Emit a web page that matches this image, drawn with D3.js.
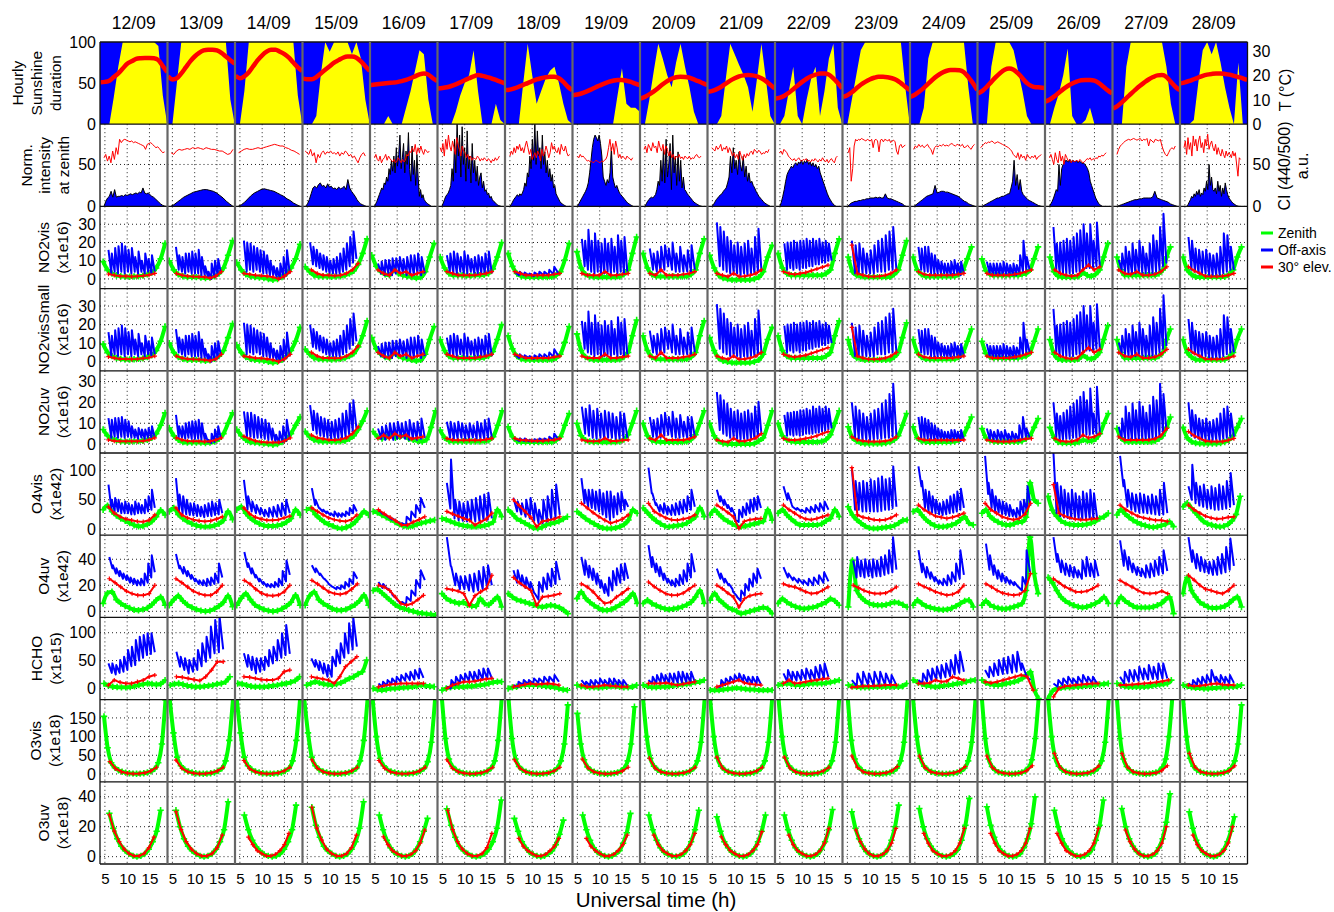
<!DOCTYPE html>
<html><head><meta charset="utf-8">
<script src="https://cdn.jsdelivr.net/npm/d3@7"></script>
<style>body{margin:0;background:#fff}svg text{font-family:"Liberation Sans",Arial,sans-serif;fill:#000}</style>
</head><body><svg id="c" width="1334" height="912"></svg>
<script>
const DAYS=["12/09","13/09","14/09","15/09","16/09","17/09","18/09","19/09","20/09","21/09","22/09","23/09","24/09","25/09","26/09","27/09","28/09"];
const HOURS=[4,5,6,7,8,9,10,11,12,13,14,15,16,17,18,19];
const X_TICKS=[5,10,15];
const SUN=[
[0,0,0,33,70,100,100,100,100,100,100,100,100,95,35,0],
[0,0,50,100,100,100,100,100,100,100,100,100,100,100,30,0],
[0,0,40,100,100,100,100,100,100,100,100,100,100,100,35,0],
[0,0,0,10,60,100,88,100,100,100,100,85,100,80,30,0],
[0,0,0,0,10,0,0,0,20,40,65,90,85,30,0,0],
[0,0,0,0,15,35,50,60,90,40,0,0,0,25,5,0],
[0,0,0,0,50,98,60,25,40,55,65,70,50,25,5,0],
[0,0,0,0,0,0,0,0,0,0,35,68,25,20,20,15],
[0,0,30,65,98,80,60,45,75,98,70,45,15,0,0,0],
[0,0,0,10,55,98,85,72,60,45,15,55,98,55,10,0],
[0,0,10,40,70,10,0,30,55,70,10,40,80,98,20,0],
[0,0,30,60,90,100,100,100,100,100,100,100,100,100,45,0],
[0,0,0,20,80,100,100,100,100,100,100,100,100,45,0,0],
[0,0,0,70,100,100,100,100,90,65,40,10,0,0,0,0],
[0,0,20,37,60,92,10,0,0,5,20,0,0,0,0,0],
[0,0,0,70,100,100,100,100,100,100,100,100,70,25,0,0],
[0,0,0,5,50,90,100,85,100,75,45,20,0,75,0,0]];
const TEMP=[
[17.3,17.5,18,19.5,21,23,25,26,27,27.3,27.4,27.4,27.3,26.5,24,21.5],
[19.8,18.5,19,21,23.5,26,28,29.5,30.5,30.8,30.8,30.5,29.5,28,26.5,25],
[20,19,19.8,21.5,24,26.5,28.5,30,30.8,30.8,30,29,27.5,25.5,23.5,22],
[19,18.6,18.6,19.5,21,22.5,24,25.5,26.5,27.5,28,28,27.5,26,24,22],
[16.2,16.4,16.6,16.8,17,17.2,17.4,17.8,18.3,19,19.8,20.6,21,20.5,19,17.8],
[14.8,15,15.3,15.8,16.5,17.3,18.2,19,19.8,20.3,20,19.5,19,18.3,17.6,16.9],
[14.1,14.3,14.8,15.5,16.3,17,17.8,18.5,19,19.4,19.6,19.6,19,17.5,15.5,14.1],
[12,12.3,12.8,13.5,14.3,15.2,16,16.8,17.5,18,18.3,18.3,18,17.5,16.8,16.2],
[10.6,11.3,12.3,13.6,15,16.5,17.8,18.8,19.4,19.6,19.5,19.2,18.5,17.8,17,16.2],
[13.4,13.8,14.5,15.5,16.8,18,19,19.8,20.2,20.3,20.2,19.8,19,17.8,16.3,14.8],
[10.6,11,11.8,13,14.5,16,17.5,18.8,19.8,20.5,21,21,20.5,19,17,14.8],
[11.3,12,13.2,14.8,16.3,17.5,18.5,19.2,19.6,19.6,19.4,19,18.3,17,15.5,14.1],
[11.3,12.2,13.5,15,16.8,18.5,20,21.2,22,22.4,22.4,22.3,21.5,19.5,17,14.1],
[12.7,13.8,15.5,17.5,19.5,21.2,22.5,23,22.5,21,19,17,15.8,15.3,15.2,15],
[9.3,10.2,11.5,13,14.5,15.8,16.8,17.6,18.2,18.3,18.3,18,17,15.5,14,12.7],
[6.5,7.5,9,10.8,12.5,14.2,15.8,17.2,18.5,19.5,20.2,20.3,19.5,17.5,15.5,14.1],
[16.9,17.3,17.9,18.6,19.3,20,20.5,20.8,21,21,20.8,20.5,20,19.5,19,18.3]];
const INTENS=[
[4.8,18.7,[0,6,10,12,18,11,20,11,12,12,13,12,14,13,14,15,14,15,16,15,17,16,22,16,15,16,14,12,11,9,7,5,3,1.5,0.5,0]],
[4.6,18.6,[0,2,5,8,11,13,15,17,18,19,20,20,19,18,16,13,10,6,3,0]],
[4.6,18.5,[0,2,5,9,13,16,18,20,21,20,19,18,16,14,12,9,7,4,2,0]],
[4.6,18.2,[0,3,8,15,22,24,22,26,28,24,25,22,27,23,24,21,22,20,23,21,22,24,20,32,22,18,15,12,8,5,3,2,1,0]],
[4.9,17.7,[0,3,6,10,14,18,22,20,28,26,35,30,45,38,55,42,60,40,70,48,62,85,45,58,75,40,66,50,88,44,30,72,38,55,25,62,35,12,20,10,14,8,6,4,3,2,1,0]],
[4.9,18.2,[0,4,8,12,14,16,20,25,45,30,80,40,99,60,85,35,95,50,70,30,90,45,60,28,75,40,55,30,48,25,35,40,22,30,18,20,14,16,10,12,8,6,5,3,2,1,0.5,0]],
[5.0,17.6,[0,2,5,8,10,12,14,12,15,13,16,20,28,24,40,35,60,45,80,55,99,50,90,60,70,45,85,50,65,40,55,35,45,30,38,22,25,15,12,9,6,4,3,2,1,0]],
[5.0,17.5,[0,3,6,9,12,15,18,22,28,40,55,70,80,85,82,78,85,75,60,35,30,25,32,28,40,70,35,28,22,25,20,16,14,12,10,8,6,4,3,2,1,0]],
[5.0,17.8,[0,3,6,8,10,11,10,12,14,20,30,25,55,30,70,28,80,35,50,75,20,85,40,60,25,65,30,55,22,35,20,18,15,13,11,9,7,5,4,3,2,1,0.5,0]],
[4.9,18.0,[0,2,5,8,10,12,14,15,18,20,22,28,35,60,40,70,45,55,38,65,50,42,60,35,48,30,40,28,30,25,22,18,15,12,10,8,6,4,3,2,1,0]],
[5.0,17.6,[0,5,12,20,30,38,42,45,48,46,50,52,49,53,51,55,50,54,52,56,50,53,48,52,47,50,45,48,40,35,30,25,20,15,11,8,5,3,1,0]],
[5.0,18.2,[0,2,4,5,6,6,7,7,8,8,9,9,10,10,10,11,10,11,10,10,15,10,9,9,8,7,6,5,4,3,1,0]],
[4.8,18.5,[0,2,4,6,8,10,12,13,14,15,25,16,17,18,18,17,17,16,15,14,13,12,10,8,6,5,3,2,1,0]],
[4.9,18.3,[0,1,2,3,4,5,6,7,8,9,10,10,11,12,12,13,14,15,15,22,30,55,25,38,20,32,18,14,12,10,8,7,6,5,4,3,2,1,0.5,0]],
[4.9,16.8,[0,3,6,10,15,20,18,50,25,45,50,52,55,54,53,56,52,55,54,53,55,52,54,53,51,52,50,48,45,40,30,25,20,15,10,7,4,2,1,0]],
[4.9,18.4,[0,1,2,3,4,5,6,7,8,8,9,9,10,10,10,10,11,18,10,9,8,7,6,5,3,2,1,0]],
[5.4,17.4,[0,2,5,8,12,10,15,12,18,14,20,12,16,14,22,18,30,20,50,25,35,20,18,22,15,30,18,25,12,22,15,28,20,14,10,8,6,4,3,2,1,0.5,0,0]]];
const CI=[
[4.8,18.4,[58,62,54,60,52,66,56,70,62,80,76,79,80,79,78,77,78,76,77,76,75,74,73,72,68,74,75,76,74,72,70,71,69,66,64,65]],
[4.7,18.6,[64,62,66,68,67,68,69,68,70,69,70,69,68,70,69,68,68,67,66,66,64,62,63,68]],
[4.7,18.4,[64,66,68,69,68,68,69,70,69,70,71,72,73,74,73,72,72,70,69,67,66,64,62]],
[4.5,18.0,[66,64,62,68,60,64,52,62,58,64,66,62,65,64,66,63,64,62,65,60,64,62,66,64,60,62,58,60,56,52,58,62,64,60]],
[4.9,17.2,[58,62,56,54,60,52,56,58,62,55,60,57,55,53,56,52,54,58,55,52,56,53,55,62,60,66,64,70,65,74,62,70,64,72,66,62,68,66,64,66]],
[4.5,17.8,[70,65,75,60,80,68,85,72,66,78,70,62,82,74,68,60,72,66,64,58,62,56,60,55,58,57,56,60,58,54,57,55,58,56,54,57,55,52,56,54,58,55,57,60]],
[5.0,18.4,[60,66,62,70,64,72,68,74,66,70,64,72,78,70,62,68,56,60,64,58,66,62,54,68,60,64,72,66,58,64,76,68,72,66,64,70,62,74,68,66,72,64,60,62]],
[5.0,17.4,[60,58,62,59,60,58,56,54,55,53,54,52,53,55,54,53,52,54,53,55,56,60,70,80,66,75,62,78,70,58,62,57,60,58,56,60,58,57,55,58]],
[4.8,17.6,[68,72,64,74,70,66,76,70,72,64,78,70,66,74,62,72,68,60,66,58,62,56,60,58,62,57,59,56,60,58,57,60,56,58,57,60,62,59,58,60]],
[4.9,17.7,[70,68,66,72,68,70,74,66,70,68,72,64,70,66,60,64,58,62,56,66,60,55,62,58,63,60,64,66,62,68,66,64,67,65,62,64,63,66,64,68]],
[4.9,17.9,[64,66,62,68,66,64,60,58,56,55,57,54,56,58,55,54,56,55,57,54,55,53,56,54,57,55,53,56,54,58,55,53,56,52,55,57,54,52,58,60]],
[5.2,18.0,[64,70,30,45,72,80,78,80,79,81,80,79,78,80,79,78,80,70,79,80,78,65,79,80,77,80,79,78,80,76,78,79,77,66,62,72,74,70,72,73]],
[4.7,18.4,[68,72,70,74,71,73,70,72,74,70,68,62,70,72,71,73,72,74,72,73,72,74,75,73,72,74,73,72,74,70,71,73,70,68,72,74]],
[4.6,18.2,[70,72,74,76,75,77,76,78,77,75,76,77,76,75,74,73,72,71,70,68,66,62,60,58,64,56,62,58,60,55,62,59,57,60,58,61,56,59,60,62]],
[4.9,17.6,[58,62,56,50,64,56,52,66,54,60,50,62,58,54,56,52,55,53,54,55,53,56,54,52,53,55,57,56,58,55,57,56,58,57,60,59,61,60,62,64]],
[4.9,18.0,[62,68,72,74,76,78,79,80,79,80,81,80,79,80,81,78,80,79,81,72,80,78,76,80,79,78,80,72,66,62,60,64,68,70,68,72]],
[4.8,17.5,[70,78,62,82,68,76,60,84,72,80,66,78,84,70,76,64,80,72,86,68,74,78,70,66,74,62,70,64,60,68,62,58,66,60,64,62,58,66,60,64,50,36,58,56]]];

const NO2VIS_Z=[
[4.6,18.5,[9.5,5,3,2,1.5,1.3,1.2,1.3,1.5,1.8,2.5,3.5,6,11,19.5]],
[4.3,18.5,[10,5,2.5,1.5,1,1,1,0.8,0.5,0.8,1.5,3,6,13,21]],
[4.3,18.5,[9,5,2.5,1.5,1,0.8,0.5,0,-0.5,0,1,3,6,11,19]],
[4.5,18.4,[6.7,4,2,1.5,1.3,1.3,1.2,1.3,1.5,2,3,4.5,8,14,22]],
[4.3,18.3,[13,7,4,2.5,2,5,3,2,1.5,1,0.5,1,4,12,19.5]],
[4.5,18.3,[12,6,3,2,2,2,1.8,1.8,2,2,2.3,3,5.5,12,20]],
[4.6,18.3,[14,7,3,1.5,1,1,1,1,1,1,1.2,2,4,10.4,19.5]],
[4.9,18.3,[15,6,2.5,1.5,1,1,1,1,1,1,1.3,2.5,5,14,23]],
[4.6,18.3,[14,6,2.5,1.5,1.3,1.3,1.3,1.3,1.3,1.3,1.5,2.5,5,14,22]],
[4.4,18.4,[13,6,2,0.5,0,-0.5,-0.5,-0.5,-0.5,-0.5,0,1,4,12,18.5]],
[4.6,18.3,[14,6,3,2,2,2,2,2,2,2,2,3,5,14,22]],
[5.2,18.3,[12,4,2,1.5,1,1,1,1,1,1,1.2,2.5,5,13,21]],
[4.6,17.7,[12,5,2.5,1.5,1.3,1.3,1.3,1.3,1.3,1.3,1.5,2.5,5,11,17.6]],
[4.9,17.5,[11,4.5,2.5,2,2,2,2,2,2,2,2.5,3,5,11,17.6]],
[5.0,18.0,[12,4,1.5,1,1,1,1,1.5,3.5,2,1.5,2.5,5,12,19.5]],
[4.9,16.9,[12,5,2,2,2,2,2,2,2,2,2,3,5,12,17.6]],
[4.6,17.7,[12,5,2.5,1.2,1,1,1,1,1,1,1.2,2.5,5,12,17.6]]];
const NO2VIS_E=[
[5.8,16.2,[2.7,2,1.5,1.5,1.3,1.5,1.8,2.2,3]],
[5.9,16.0,[3,2,1.5,1.3,1.2,1,0.5,1.5,4]],
[5.9,16.3,[3,2.5,2,1.8,1.5,1,0,1.5,4]],
[5.9,16.4,[5,3,2,2,1.8,2,3,5,8.5]],
[5.7,15.8,[5,3,2,5,3,4,2,3,4]],
[6.0,16.1,[4,3,2,2,2,2,2.5,3,4]],
[6.1,16.2,[4,3,2,2,2,2,2,2.5,3]],
[6.0,16.4,[3,2,2,2,4,2,2,2.5,3]],
[6.1,16.2,[3,2,5,2,2,2,2.5,3,4]],
[6.0,16.0,[3,2,1.3,3,1.3,1.5,2,3,5]],
[5.8,15.8,[4,3,2.5,3,3.5,4.5,5.5,6.5,7.6]],
[6.0,16.0,[18.5,3,2,1.3,1.3,1.5,2,3,5]],
[5.8,16.0,[4,2.5,2,2,2,2,2,2.5,3]],
[6.0,16.0,[3,2,2,2,2,2.5,3,4,5]],
[6.1,16.2,[5,3,2,1.5,2,5,7.6,5,6.7]],
[5.3,16.1,[5,3,2.5,4,2,2,2.5,4,6.7]],
[5.8,16.0,[6.7,4.5,3,1.5,1.3,1.3,1.5,2,3]]];
const NO2VIS_O=[
[5.8,16.2,[16,3,14,4,17,3,18,4,19.5,3,18,4,16,3,17,4,12,3,15,4,10,3,14,4,11,3,13,4]],
[5.8,15.9,[17.6,5,13,4,12,3,14,4,14,3,15,3,14,3,16,2,12,2,7,1,4,0,8.5,1,10,2,11,3]],
[5.9,16.2,[21,4,20,5,19.5,4,18,5,17,4,15.8,3,15,3,13,2,10,2,7,1,6,0,8.5,1,12,2,15.8,3]],
[5.6,16.0,[20,8,17.6,7,16,6,14,5,13,4,12,3,10,3,11,3,12,3,14,4,16.7,5,19.5,7,23,9,26,11]],
[5.7,16.2,[8.5,3,9.5,2,10.4,3,10.4,2,11.3,3,11.3,4,12,3,11,2,12,3,13,2,13,3,14,2,12,3]],
[6.0,16.1,[13,4,14,3,15,3,14,4,12,3,15,3,13,4,11,3,12,3,13,3,12,3,14,4,15,3]],
[6.1,15.9,[4,2,4,2,3.5,2,3,1.5,3.5,2,4,2,4,2,5,2.5,6.7,3]],
[6.0,16.2,[22,7,21,5,27,4,21,3,25,4,21,3,19.5,3,22,4,19.5,3,22,4,17.6,3,24,4,21,3,23,4]],
[6.1,16.2,[16.7,5,14,4,15,4,17.6,5,18.5,7,16.7,5,20,4,14,4,17.6,4,13,4,15.8,4,18.5,5]],
[6.0,16.0,[31,7,28.5,5,26,4,23,3,21,3,18.5,3,20,2,17.6,3,19.5,2,21,3,16.7,3,23,4,27.6,5]],
[6.0,16.6,[19.5,5,20,6,20,5,21,6,20,5,21,6,21,6,22,7,21,7,22,8,21,8,22,9,20,9,21,10,19.5,10]],
[6.0,16.0,[21,3,18.5,3,19.5,3,16.7,3,14,3,15.8,3,18.5,4,21,4,22,4,24,5,26,5,28.5,5]],
[5.8,16.0,[17.6,5,16.7,4,17.6,4,17.6,3,14,3,13,3,10.4,3,9.5,3,8.5,2,8.5,2,9.5,3,10.4,3,8.5,2,9.5,3]],
[6.0,15.6,[9.5,3,8.5,2,8.5,2,8.5,2,8.5,2,9.5,2,8.5,2,7.6,2,8.5,2,7.6,3,13,4,21,5,12,5]],
[5.8,16.2,[28.5,5,19.5,3,20,3,21,3,22,3,21,3,23,4,25,4,26.7,5,30,6,25,6,30,6,21,7,31,7]],
[5.3,16.0,[10.4,5,14,4,17.6,3,15,3,19.5,3,16,4,21,3,17.6,3,14,3,19.5,3,24,4,21,5,28.5,7,35.8,8.5]],
[5.8,16.0,[23,5,21,4,16.7,3,16,3,15,3,16,2,14,2,13,2,14,2,17.6,3,25,4,24,5,17.6,5]]];

const NO2VS_Z=[
[4.6,18.5,[9.5,5,3,2,1.5,1.3,1.2,1.3,1.5,1.8,2.5,3.5,6,11,19]],
[4.3,18.5,[10,5,2.5,1.5,1,1,1,0.8,0.5,0.8,1.5,3,6,13,20.5]],
[4.3,18.5,[9,5,2.5,1.5,1,0.8,0.5,0,-0.5,0,1,3,6,11,18.5]],
[4.5,18.4,[6.7,4,2,1.5,1.3,1.3,1.2,1.3,1.5,2,3,4.5,8,14,22]],
[4.3,18.3,[13,7,4,2.5,2,5,3,2,1.5,1,0.5,1,4,12,19]],
[4.5,18.3,[12,6,3,2,2,2,1.8,1.8,2,2,2.3,3,5.5,12,20]],
[4.6,18.3,[14,7,3,1.5,1,1,1,1,1,1,1.2,2,4,10.4,19]],
[4.9,18.3,[15,6,2.5,1.5,1,1,1,1,1,1,1.3,2.5,5,14,22.5]],
[4.6,18.3,[14,6,2.5,1.5,1.3,1.3,1.3,1.3,1.3,1.3,1.5,2.5,5,14,22]],
[4.4,18.4,[13,6,2,0.5,0,-0.5,-0.5,-0.5,-0.5,-0.5,0,1,4,12,18.5]],
[4.6,18.3,[14,6,3,2,2,2,2,2,2,2,2,3,5,14,22]],
[5.2,18.3,[12,4,2,1.5,1,1,1,1,1,1,1.2,2.5,5,13,21]],
[4.6,17.7,[12,5,2.5,1.5,1.3,1.3,1.3,1.3,1.3,1.3,1.5,2.5,5,11,17.6]],
[4.9,17.5,[11,4.5,2.5,2,2,2,2,2,2,2,2.5,3,5,11,17.6]],
[5.0,18.0,[12,4,1.5,1,1,1,1,1.5,3.5,2,1.5,2.5,5,12,19.5]],
[4.9,16.9,[12,5,2,2,2,2,2,2,2,2,2,3,5,12,17.6]],
[4.6,17.7,[12,5,2.5,1.2,1,1,1,1,1,1,1.2,2.5,5,12,17.6]]];
const NO2VS_E=[
[5.8,16.2,[2.7,2,1.5,1.5,1.3,1.5,1.8,2.2,3]],
[5.9,16.0,[3,2,1.5,1.3,1.2,1,0.5,1.5,4]],
[5.9,16.3,[3,2.5,2,1.8,1.5,1,0,1.5,4]],
[5.9,16.4,[5,3,2,2,1.8,2,3,5,8.5]],
[5.7,15.8,[5,3,2,5,3,4,2,3,4]],
[6.0,16.1,[4,3,2,2,2,2,2.5,3,4]],
[6.1,16.2,[4,3,2,2,2,2,2,2.5,3]],
[6.0,16.4,[3,2,2,2,4,2,2,2.5,3]],
[6.1,16.2,[3,2,5,2,2,2,2.5,3,4]],
[6.0,16.0,[3,2,1.3,3,1.3,1.5,2,3,5]],
[5.8,15.8,[4,3,2.5,3,3.5,4.5,5.5,6.5,7.6]],
[6.0,16.0,[18.5,3,2,1.3,1.3,1.5,2,3,5]],
[5.8,16.0,[4,2.5,2,2,2,2,2,2.5,3]],
[6.0,16.0,[3,2,2,2,2,2.5,3,4,5]],
[6.1,16.2,[5,3,2,1.5,2,5,7.6,5,6.7]],
[5.3,16.1,[5,3,2.5,4,2,2,2.5,4,6.7]],
[5.8,16.0,[6.7,4.5,3,1.5,1.3,1.3,1.5,2,3]]];
const NO2VS_O=[
[5.8,16.2,[16,3,14,4,17,3,18,4,19.5,3,18,4,16,3,17,4,12,3,15,4,10,3,14,4,11,3,13,4]],
[5.8,15.9,[17.6,5,13,4,12,3,14,4,14,3,15,3,14,3,16,2,12,2,7,1,4,0,8.5,1,10,2,11,3]],
[5.9,16.2,[21,4,20,5,19.5,4,18,5,17,4,15.8,3,15,3,13,2,10,2,7,1,6,0,8.5,1,12,2,15.8,3]],
[5.6,16.0,[20,8,17.6,7,16,6,14,5,13,4,12,3,10,3,11,3,12,3,14,4,16.7,5,19.5,7,23,9,26,11]],
[5.7,16.2,[8.5,3,9.5,2,10.4,3,10.4,2,11.3,3,11.3,4,12,3,11,2,12,3,13,2,13,3,14,2,12,3]],
[6.0,16.1,[13,4,14,3,15,3,14,4,12,3,15,3,13,4,11,3,12,3,13,3,12,3,14,4,15,3]],
[6.1,15.9,[4,2,4,2,3.5,2,3,1.5,3.5,2,4,2,4,2,5,2.5,6.7,3]],
[6.0,16.2,[22,7,21,5,27,4,21,3,25,4,21,3,19.5,3,22,4,19.5,3,22,4,17.6,3,24,4,21,3,23,4]],
[6.1,16.2,[16.7,5,14,4,15,4,17.6,5,18.5,7,16.7,5,20,4,14,4,17.6,4,13,4,15.8,4,18.5,5]],
[6.0,16.0,[31,7,28.5,5,26,4,23,3,21,3,18.5,3,20,2,17.6,3,19.5,2,21,3,16.7,3,23,4,27.6,5]],
[6.0,16.6,[19.5,5,20,6,20,5,21,6,20,5,21,6,21,6,22,7,21,7,22,8,21,8,22,9,20,9,21,10,19.5,10]],
[6.0,16.0,[21,3,18.5,3,19.5,3,16.7,3,14,3,15.8,3,18.5,4,21,4,22,4,24,5,26,5,28.5,5]],
[5.8,16.0,[17.6,5,16.7,4,17.6,4,17.6,3,14,3,13,3,10.4,3,9.5,3,8.5,2,8.5,2,9.5,3,10.4,3,8.5,2,9.5,3]],
[6.0,15.6,[9.5,3,8.5,2,8.5,2,8.5,2,8.5,2,9.5,2,8.5,2,7.6,2,8.5,2,7.6,3,13,4,21,5,12,5]],
[5.8,16.2,[28.5,5,19.5,3,20,3,21,3,22,3,21,3,23,4,25,4,26.7,5,30,6,25,6,30,6,21,7,31,7]],
[5.3,16.0,[10.4,5,14,4,17.6,3,15,3,19.5,3,16,4,21,3,17.6,3,14,3,19.5,3,24,4,21,5,28.5,7,35.8,8.5]],
[5.8,16.0,[23,5,21,4,16.7,3,16,3,15,3,16,2,14,2,13,2,14,2,17.6,3,25,4,24,5,17.6,5]]];

const NO2UV_Z=[
[4.6,18.5,[7,4,2.5,1.8,1.3,1.2,1.2,1.3,1.4,1.6,2,3,5,9,15]],
[4.3,18.5,[7.7,4,2,1,0.7,0.7,0.7,0.7,0.5,0.7,1.2,2.5,5,10,15]],
[4.3,18.5,[7,4,2,1,0.7,0.5,0.3,0,-0.3,0,1,2.5,5,9,13]],
[4.5,18.4,[6,3.5,2,1.5,1.2,1.2,1.2,1.2,1.3,1.6,2.5,4,7,11,16]],
[4.6,18.6,[6,3.5,2.7,3.5,4.3,3,3.5,4,2.5,2,1.5,1.2,2.2,8,16]],
[4.5,18.4,[6.7,3,1.5,1.2,1.2,1.2,1.2,1.2,1.2,1.2,1.3,1.8,3.5,9,16]],
[4.6,18.3,[8.3,3.5,1.5,1,1,1,1,1,1,1,1,1.8,3.5,9,14.7]],
[4.9,18.3,[10,4,1.8,1.2,1,1,1,1,1,1,1.2,2.2,4.5,10,16]],
[4.6,18.3,[10,4,1.8,1.2,1,1,1,1,1,1,1.2,2.2,4.5,10,16]],
[4.4,18.4,[10,4,1.5,0.3,0,0,0,0,0,0,0.2,1.5,3,9,16]],
[4.6,18.3,[10,4,2,1.3,1,1,1,1,1,1,1.2,2.2,4.5,10,16]],
[5.2,18.3,[8.3,3,1.5,0.6,0.3,0.3,0.3,0.3,0.3,0.5,1,2,4,9,14.7]],
[4.6,17.7,[8.3,3,1.5,1.1,1,1,1,1,1,1,1.2,2,4,8,13]],
[4.9,17.5,[7.5,3,1.8,1.2,1.1,1.1,1.1,1.1,1.1,1.1,1.5,2.5,4,8,12.3]],
[5.0,18.1,[8,3,1,0.5,0.5,0.5,0.5,1,2,1.5,1.5,2.5,5,10,14.7]],
[4.9,16.9,[7.5,3,1.5,1.1,1.1,1.1,1.1,1.1,1.1,1.1,1.5,2.5,4,8,13]],
[4.6,17.7,[8,3,1.2,0.5,0.3,0.3,0.3,0.3,0.3,0.5,1,2,4,8,12.3]]];
const NO2UV_E=[
[5.8,16.2,[2,1.5,1.3,1.3,1.3,1.3,1.5,2,3]],
[5.9,16.0,[3,2,1.5,1.3,1.3,1.2,1.3,2,3]],
[5.9,16.3,[3.7,2.5,1.5,1,0.8,0.8,0.8,1.5,3]],
[5.9,16.4,[4.3,3,2.5,2,2,2.2,3,5,8.3]],
[5.7,15.8,[2.7,4.3,2.7,5,3.5,4.3,2.5,3,3.5]],
[6.0,16.1,[2.7,2,1.8,1.8,1.8,1.8,1.8,2.2,2.7]],
[6.1,16.2,[2.7,2,1.8,1.6,1.6,1.6,1.8,2,2.7]],
[6.0,16.4,[2,1.5,1.3,1.5,2.7,1.5,1.5,1.8,2]],
[6.1,16.2,[2.7,2,4.3,2,2,2,2,2.5,3.5]],
[6.0,16.0,[2,1.3,1,2.7,1.3,1.5,2,3,5]],
[5.8,15.8,[2.7,2,2,2.2,2.7,3.2,4,5,6]],
[6.0,16.0,[3.5,2,1.5,1.2,1.2,1.2,1.5,2,3.5]],
[5.8,16.0,[2.7,2,1.8,1.8,1.8,1.8,1.8,2,2]],
[6.0,16.0,[2,1.5,1.2,1.2,1.2,1.5,2,2.5,2.7]],
[6.1,16.2,[2.7,1.5,1.2,1.2,2,4.3,3,3.5,5]],
[5.3,16.1,[3.5,2,2,2,2,2,2.5,4,7.5]],
[5.8,16.0,[6,4,2.7,1.5,1.2,1.2,1.2,1.8,2.7]]];
const NO2UV_O=[
[5.8,16.2,[12.5,3,11.7,3.5,12.5,3,12.5,3.5,13,3,11.7,3.5,11,3,8.5,3,7,2.5,7.7,3,7,2.5,7,3,7.7,3,8.5,3]],
[5.8,15.9,[14,3,8.5,3,8.5,2.5,10,3,10.5,2.5,11,2.5,11,2.5,11.7,2,10,2,5,1,2,0.5,5,1,7,2,8.5,2.5]],
[5.9,16.2,[15.7,3.5,15,3.5,15,3,14,3,13,3,12,2.5,11.7,2,10,2,7.5,1,4.5,0.5,6,1,8.5,1.5,11.7,2.5]],
[5.6,16.0,[18.7,6.7,16,5,14.7,4,13,3.5,12.3,3,11.5,2.5,10.7,2.5,11.5,2.5,12.3,3,14.7,3.5,16,4.5,19.5,6,21,7.5]],
[5.7,16.2,[7.5,2.5,8.3,2,9,2.5,10,2,10,2.5,10.7,3,10,2.5,10.7,2,11.5,2.5,10,2,10.7,2.5,12.3,3]],
[6.0,16.1,[10.7,3,10.7,2.5,10,2.5,10.7,3,10,2.5,9,2.5,10,3,9,2.5,10.7,2.5,10,2.5,11.5,3,12.3,3]],
[6.1,15.9,[2.7,1.5,2.7,1.5,2.7,1.3,2,1.2,2.3,1.3,2.7,1.5,2.7,1.5,3.5,1.8,5,2]],
[6.0,16.2,[18,5,17,4,18.7,3,16,2.5,17,3,14.7,2.5,16,3,15.3,3,14.7,2.5,13,2.5,15.3,3,14.7,3]],
[6.1,16.2,[13,3.5,11.5,3,12.3,3,14,4,15,4.5,13,3.5,15.5,3,12.3,3,14,3.5,10.7,3,13,3,13,3.5]],
[6.0,16.0,[25,6.7,23.5,5,21,4,19.5,3,17,3,15.5,2.5,16.3,2,14.7,2.5,15.5,2,16.3,2.5,14.7,2.5,18,3.5,20.3,5]],
[6.0,16.6,[14,4,15,4.5,15,4,15.5,4.5,15.5,4,16.3,4.5,16.3,5,17,5,16.3,5,18,5.5,17,5.5,18,6,17,6.5,18,7,17,7.5]],
[6.0,16.0,[20,3,18,2.5,16.3,2,14.7,2,13,2,14.7,2,16.3,2.5,17,2.5,19.5,3,21,3,24,3.5,29,4]],
[5.8,16.0,[13,3,13,2.5,12.3,2.5,11.5,2,10,2,9,2,7.5,2,6.7,1.8,5.9,1.8,5.9,1.5,6.7,1.8,6.7,1.8,5.9,1.5,6.7,1.8]],
[6.0,15.6,[7.5,2,6.7,1.8,5.9,1.8,6.7,1.8,5.9,1.5,6.7,1.8,5,1.5,5.9,1.5,5,1.5,9,2.5,13,3,7.5,3]],
[5.8,16.2,[20,3.5,14.7,2.5,13.5,2,15,2.5,16.3,2.5,18,3,19.5,3,21,3.5,22.7,4,25,4.5,21,4.5,26.7,5,14.7,5,27.5,5.5]],
[5.3,16.0,[8.3,3,12.3,2.5,18,2,15,2,19.5,2,16.3,2.5,20.3,2,18,2,15,2,18.7,2.5,22.7,3,21,3.5,29,5,24,6.7]],
[5.8,16.0,[20,4,16.3,3,14,2.5,12.3,2,11.5,2,12.3,2,10.7,2,11.5,2,12.3,2,14.7,2.5,17,3,18,3.5,14.7,3.5]]];

const O4VIS_Z=[
[4.6,18.5,[33,40,30,23,18,14,10,6.5,4.5,5,8,13,21,32,24]],
[4.3,18.5,[30,36,25,18,13,9,6,4.5,4,4.5,6,9,15,30,16]],
[4.3,18.5,[33,38,27,19,13,9,6,5,5,6,8,12,18,33,24]],
[4.8,18.7,[33,35,25,18,12,8,5,2,1,3,6,12,21,30,24]],
[4.6,18.4,[30,28,24,20,16,12,8,5,4,5,8,10,12,14,15.5]],
[4.9,18.3,[18,16,13,10,8,6,5,4,4,5,6,8,12,33,21]],
[4.6,17.9,[33,26,18,14,10,6,2,1,3,7,9,11,13,17,21]],
[4.9,18.4,[30,24,18,13,9,5,2,1,1,2,4,8,15.5,33,27]],
[4.6,18.3,[36,28,20,14,9,5,4,5,6,7,10,15,21,36,21]],
[4.5,18.4,[24,33,25,18,13,9,5,4,5,7,9,11,13,33,15]],
[4.6,18.3,[27,33,24,17,11,7,7,7,7,7,9,14,18,33,21]],
[5.2,18.4,[38,24,16,10,5,2,1,1,2,3,4,6,10,15,15.5]],
[4.6,18.1,[30,33,24,16,10,6,4,4,5,7,10,15.5,21,10,7]],
[4.9,17.5,[27,33,22,16,12,9,7,7,9,12,12,20,79,50,44]],
[4.6,18.1,[56,32,22,14,10,8,7,7,7,8,10,13,18,21,27]],
[4.9,17.6,[24,33,26,20,15,11,8,6,4,3,4,6,8,12.6,4]],
[4.6,17.4,[38,44,36,28,20,13,9,7,5,4,5,8,14,25,56]]];
const O4VIS_E=[
[5.8,16.2,[38,27,21,17,15,13,12.6,15,24]],
[5.8,16.2,[36,24,19,16,14,13,14,17,21]],
[5.9,16.2,[36,26,20,17,15,15,16,19,22]],
[6.0,16.1,[36,30,24,19,16,14,13,16,24]],
[5.8,16.2,[33,26,20,14,7,7,12,16,21]],
[6.0,16.1,[30,26,22,18,15,7,12,17,27]],
[5.8,16.2,[50,40,30,20,4,13,15,17,21]],
[5.9,16.4,[44,36,28,21,15,10,13,17,24]],
[5.8,16.2,[44,30,24,19,16,15,17,19,24]],
[6.0,15.9,[41,35,28,21,1,13,16,17,18]],
[5.8,15.8,[41,33,27,21,17,16,18,21,24]],
[6.0,16.0,[105,24,20,18,16,15,16,19,24]],
[5.8,16.0,[41,33,27,22,20,18,20,23,27]],
[5.6,15.8,[44,33,27,21,18,16,18,25,44]],
[5.8,15.6,[76,27,22,19,17,16,16,17,18]],
[5.6,16.2,[41,33,27,22,19,17,15,15,13]],
[5.8,16.0,[41,33,27,22,19,17,18,20,21]]];
const O4VIS_O=[
[5.8,16.2,[76,36,50,30,53,30,50,27,44,27,47,27,44,25,41,25,47,27,44,27,41,27,50,30,56,33,67,36]],
[5.8,16.2,[87,30,59,27,56,25,50,24,44,23,44,22,41,22,38,20,41,22,44,22,47,24,44,25,50,27]],
[5.9,16.2,[84,33,56,30,47,27,41,25,36,22,33,21,36,21,38,21,41,22,44,24,50,27]],
[6.0,16.1,[70,41,50,36,36,30,33,27,30,24,27,22,30,21,27,21,27,22,30,24,36,27,41,30]],
[5.8,16.2,[33,26,27,22,21,16,18,13,12.6,8,10,6,21,14,30,20,41,28,53,36]],
[6.0,16.1,[79,35,119,18,50,15,47,14,44,13,47,14,50,13,53,14,56,15,59,16,62,18]],
[5.8,16.2,[53,30,47,25,44,21,50,18,53,14,44,10,33,10,50,13,56,16,67,20,76,24]],
[5.9,16.4,[87,44,67,38,67,36,67,33,64,30,67,25,61,20,64,15.5,64,20,56,25,61,30,64,33,50,38]],
[5.8,16.2,[105,61,61,41,44,30,41,27,44,25,38,24,41,24,44,25,47,27,50,30,56,33,67,38]],
[6.0,15.9,[67,47,56,41,50,36,41,30,36,24,15.5,12,33,20,38,24,44,27,50,30,53,33,56,36]],
[5.8,15.9,[73,50,61,41,38,33,36,30,33,28,36,28,38,29,41,30,44,31,47,33]],
[6.0,16.0,[105,33,82,33,79,30,82,30,79,30,85,30,82,30,87,31,90,33,85,33,87,36,107,38]],
[5.8,16.0,[107,73,82,36,67,30,64,28,56,27,50,25,44,24,47,25,50,27,56,28,59,30,64,33,69,36]],
[5.6,15.8,[125,60,79,36,67,30,56,28,50,25,47,24,44,22,41,22,33,20,36,22,47,25,50,30,73,40]],
[5.8,15.6,[130,27,79,22,73,20,67,19,61,18,67,18,61,17,56,17,64,17,61,17,67,18,61,18]],
[5.6,16.2,[125,73,84,38,67,33,61,30,59,28,61,28,59,27,56,26,59,25,56,24,67,25,79,27]],
[5.8,16.0,[73,50,110,44,79,40,73,38,76,36,67,35,73,33,70,33,76,34,73,35,82,38,96,41]]];

const O4UV_Z=[
[4.6,18.5,[6,14,15,9,6,4,2.5,1.2,0.8,1.5,2.5,5,8.5,11,4.6]],
[4.3,18.5,[4.6,9,12,8,5,3,1.5,0.5,0,0.5,2,4,7,12,3.5]],
[4.3,18.5,[4.6,10,13.6,9,5,3,1.5,0.5,0,0.5,2,4,7,12.3,4.6]],
[4.5,18.7,[4.6,12,14.9,9,6,4,2,1,0.8,1.5,3,5,8,12.3,4.6]],
[4.6,18.6,[16,17,14,11,8,5,3,2,0.8,0,-1,-1.5,-2,-2.5,-3]],
[4.9,18.3,[13.6,10,8,7,6,7,5,4,4,9.7,6,5,8,11,3.3]],
[4.6,18.0,[13.6,11,9,8,7,6,5,4,3.3,4,4.6,4,3,1,-1.8]],
[4.9,18.4,[9.7,14.9,10,7,4.5,2.5,1,0.8,1.5,3,5,7,10,13.6,6]],
[4.6,18.3,[6,8.5,6,4.5,3,2,1.5,2,2.5,3.5,5,7,11,16,6]],
[4.5,18.4,[8.5,13.6,9,6,3,1.5,0,-1.8,-1,0,1,2,3,2,-1.8]],
[4.6,18.3,[6,9.7,7,5,3.5,2.5,2,2.5,3,4,5.5,7,9.7,8,4.6]],
[5.2,18.4,[3.3,39,16,11,8,6,5,4.6,4.6,5,6,7,6.5,5,3.3]],
[4.6,18.1,[4.6,8.5,6,4,3,2,1.5,1.2,1.5,2.5,4,6,8,8.5,3.3]],
[4.9,17.5,[4.6,8,5,3.5,2.5,2,2,2.5,3.5,4.5,6,16,57,29,13.6]],
[4.6,18.1,[26,22,16,11,8,6,4.6,3.5,3,3.5,4.6,6,8,11,6]],
[4.9,17.6,[6,11,8,6,4,3,3,3,3,3.5,4.6,6,9,11,-1.8]],
[4.6,17.7,[13.6,26,16,11,7,5,3.3,2.5,2.5,3,4,6,9,11,3.3]]];
const O4UV_E=[
[6.0,16.2,[25,22,18.7,15.5,13.6,12.3,12.3,13.6,20]],
[5.8,16.2,[25,22,18.7,15.5,13.6,12.3,12.3,15,20]],
[6.0,16.2,[23.8,21,17,14,12.3,12,12.5,15,20]],
[6.0,16.2,[23.8,21,18,15,13.6,13,14,17,21]],
[5.8,15.9,[20,18.7,16,11,6,4.6,6,9,12.3]],
[6.0,16.1,[17.4,16.5,15.5,13.6,4.6,12,15,17.4,27.7]],
[5.8,16.2,[26,22,19,16,4.6,11,11.5,12.3,13.6]],
[5.9,16.4,[21,18.7,15,10,6,7,11,14,17.4]],
[5.8,16.2,[22.5,19,16,13.6,12.3,12.5,14,17,20]],
[6.0,15.9,[20,17.4,14,11,3.3,9.7,12,13,13.6]],
[5.8,15.8,[21,19.5,18.7,17,15,13.6,14,16,18.7]],
[6.3,16.0,[20,18,16,14.5,13.6,13.6,14,16,18.7]],
[5.8,16.0,[21,19,17,15,13.6,12.3,13,15,20]],
[5.8,15.8,[21,18.7,16,14,13,12.3,13,16,29]],
[5.8,15.8,[25,22,19,17,15,14.9,15.5,17.4,20]],
[5.6,16.3,[23.8,21,18.7,16,14,13.6,14,15.5,13.6]],
[5.8,16.0,[27.7,24,20,17,16,14.5,13.6,16,20]]];
const O4UV_O=[
[6.0,16.2,[41.8,33,35.4,29,33,27,31,25,29,24,27.7,22,26,21,25,20,23.8,20,25,20,29,22,36.7,26,43,30]],
[5.8,16.2,[44,33,35,29,34,27,31,25,28,23,25,21,23.8,20,23.8,19.5,25,20,26,21,29,22,36.7,26]],
[6.0,16.2,[45.6,34,37,29,33,26,28,23,25,21,22.5,19,21,18.5,21,18.5,22.5,19,25,20,31,23,39,28]],
[6.0,16.2,[35.4,30,33,28,29,25,25,22,21,19,18.7,17,18.7,17,20,17.5,22.5,19,25,21,30,25]],
[5.8,16.2,[22.5,18,21,17,17.4,14,12.3,10,8.5,6,7.2,5,11,8,16,12,24,18,31.5,24]],
[6.0,16.1,[57,35,34,20,29,17,27,17,27,16,28,15,29,16,31,17,34,18,35.4,20]],
[5.8,16.2,[31.5,22,31.5,20,27.7,18,26,17,22.5,14,13.6,9,22.5,15,26,17,29,19,32.8,21,38,24]],
[5.9,16.4,[41.8,28,39,26,35,24,32.8,21,29,18,23.8,14,21,12,26,16,31,20,33,22,36,24,36.7,25]],
[5.8,16.2,[50.8,34,41.8,30,36.7,27,34,24,29,22,25,20,23.8,19,25,20,28,21,31.5,23,36.7,26,44,30]],
[6.0,15.9,[32.8,25,29,22,25,20,21,17,14.9,12,11,8,16,12,21,16,25,19,29,22,32.8,25]],
[5.8,15.9,[34,26,29,24,26,22,25,21,23.8,20,25,20,26,21,27.7,22,30,23]],
[6.3,16.0,[39,26,41.8,27,39,26,40,27,39,26,40,27,39,27,41.8,28,43,29,47,30,57,32]],
[5.8,16.0,[47,30,36.7,26,34,25,30,23,26.4,21,23.8,20,25,20,27.7,21,30,23,36.7,25,47,28]],
[5.8,15.7,[52,32,43,28,35.4,25,31.5,23,29,22,26.4,21,23.8,20,22.5,19,18.7,16,26.4,20,47,30]],
[5.8,15.9,[57,38,44,30,39,28,36.7,27,35.4,26,34,26,31.5,25,39,27,41.8,27,36.7,26,39,27]],
[5.6,16.2,[54.6,35,47,32,41.8,30,36.7,28,34,27,32.8,26,35.4,26,36.7,27,39,28,41.8,29,47,31]],
[5.8,16.0,[57,38,47,33,44,31,41.8,30,39,29,38,28,39,28,41.8,29,44,30,49.5,32,56,35]]];

const HCHO_Z=[
[4.8,18.5,[9,5,3,2.5,2,2,2.5,4,6,7.5,9,8,7,8,15]],
[4.5,17.9,[6,8,9,7,5,4,3,3,4,5,6,8,9,12,21]],
[4.5,18.4,[9,8,6,4,3,3,3,4,5,6,8,9,11,14,21]],
[4.8,18.3,[6,9,12,10,8,7,6,8,10,14,18,21,26,30,51]],
[4.6,18.3,[0,-2,-3,-2,0,0,1,1.5,2,3,4,6,5,4,3]],
[4.9,18.3,[-3,0,2,3,3,3,4,4,5,6,7,9,11,12,12]],
[4.6,17.9,[0,2,3,5,6,6,6,6,5,4,3,2,0,-2,-3]],
[4.9,18.3,[6,4,3,2,2,1.5,2,3,4,4,3,2,2,3,6]],
[4.6,18.3,[6,4,2,2,3,3,4,5,6,7,8,9,11,12,15]],
[4.5,18.4,[-3,-3,-3,-2,-1,0,1,0,-1,-2,-2,-3,-3,-3,-3]],
[4.6,18.3,[6,8,9,8,6,6,7,8,9,9,9,10,11,13,15]],
[5.2,18.3,[6,4,3,2,2,2,3,3,3,3,3,3,3,4,9]],
[4.6,18.5,[15,11,8,5,4,3,4,5,6,7,9,10,12,14,15]],
[4.9,17.6,[15,10,8,6,6,7,9,10,12,14,18,24,30,-3,-18]],
[4.6,18.1,[-18,-5,0,1,2,2,3,3,4,5,5,6,7,8,9]],
[4.9,17.1,[9,6,4,3,3,3,3,3,4,5,6,7,8,9,15]],
[4.6,17.7,[6,4,2,1,1,0,0,1,1,2,2,3,3,4,6]]];
const HCHO_E=[
[5.8,16.2,[6,15,11,9,9,12,15,21,24]],
[5.9,16.4,[21,20,18,16,14,21,33,48,48]],
[5.9,16.2,[21,20,18,16,15,15,18,30,33]],
[5.9,16.1,[21,19,17,15,9,21,39,48,57]],
[5.8,15.9,[3,5,7,8,9,9,9,9,9]],
[6.0,16.1,[0,6,9,12,12,13,15,17,18]],
[5.8,16.0,[3,5,7,9,7,8,9,8,6]],
[5.9,16.2,[6,3,3,4,6,5,4,3,3]],
[5.8,16.2,[9,9,9,10,8,6,8,10,12]],
[6.0,15.9,[3,6,9,12,15,10,8,7,6]],
[5.8,15.8,[9,15,9,10,12,14,15,17,18]],
[6.0,16.0,[2,3,4,4,5,5,6,6,6]],
[5.8,16.0,[9,9,10,15,12,13,21,18,15]],
[5.6,16.4,[12,10,12,15,18,21,24,21,-3]],
[5.8,15.8,[-15,0,4,5,6,7,8,9,9]],
[5.6,16.5,[6,6,7,8,9,10,11,13,15]],
[5.8,16.0,[6,4,5,6,8,9,7,6,6]]];
const HCHO_O=[
[5.8,16.2,[45,28,45,25,42,28,51,30,57,33,69,40,75,42,87,50,93,55,96,60,99,62,99,65]],
[5.9,16.4,[66,39,57,33,54,27,51,30,54,33,69,40,81,48,93,55,111,63,123,65,130,70]],
[5.9,16.2,[63,39,60,33,57,27,54,30,54,33,57,40,69,45,75,50,87,55,99,60,114,62]],
[5.9,16.1,[54,39,51,33,48,27,45,21,42,21,57,40,69,45,81,55,99,63,117,70,127,75]],
[5.8,15.9,[9,3,12,5,15,8,18,9,21,12,24,14,27,15,30,16,33,18,36,19]],
[6.0,16.1,[3,0,15,6,21,9,24,12,27,13,30,14,30,14,33,16,36,17,36,18]],
[5.8,16.0,[6,3,12,6,15,8,15,9,18,10,18,10,21,11,21,12,24,12]],
[5.9,16.2,[15,6,12,5,15,5,15,6,18,6,15,6,18,6,18,6,15,5,15,5]],
[5.8,16.2,[15,9,21,9,24,10,27,11,24,10,27,11,27,10,30,11,30,11,27,10,30,12]],
[6.0,15.9,[3,3,15,6,18,9,21,12,24,14,27,12,24,10,21,9,21,8,21,7]],
[5.8,15.9,[27,12,33,15,30,14,30,15,33,16,36,17,33,17,39,18,42,19,45,20]],
[6.0,16.0,[15,4,27,5,30,6,27,5,30,6,30,6,27,6,24,6]],
[5.8,16.0,[15,9,27,12,33,14,36,16,39,18,42,20,45,22,51,25,60,28,66,30]],
[5.6,15.8,[33,20,39,22,45,24,51,26,54,27,57,28,60,30,66,33,45,25,21,15]],
[5.8,15.6,[9,3,15,6,18,8,21,9,18,8,21,9,24,10,21,9,21,9]],
[5.6,16.2,[21,9,30,12,33,13,33,14,39,16,36,16,42,17,39,16,45,18,45,18]],
[5.8,16.0,[9,4,15,6,18,7,21,8,24,9,33,12,21,9,24,10,21,9,24,10]]];

const O3VIS_Z=[
[4.8,18.6,[154,70,30,17,10,6,3.5,2,1,0.5,1,2,4,7,14,30,80,198]],
[4.4,18.6,[200,110,45,22,12,7,4,2,1,0.5,1,2,4,8,15,35,90,200]],
[4.3,18.5,[200,110,45,22,12,7,4,2,1,0.5,1,2,4,8,15,35,90,200]],
[4.3,18.5,[200,110,45,22,12,7,4,2,1,0.5,1,2,4,8,15,35,90,200]],
[4.5,18.5,[200,100,42,22,12,7,4,2,1,0.5,1,2,4,8,15,33,85,200]],
[4.9,18.3,[200,95,40,20,11,6,3,1.5,0.5,0,1,2,4,8,16,35,90,200]],
[4.7,18.0,[200,95,40,20,11,6,3,1.5,0.5,0,1,2,4,8,16,35,80,185]],
[5.0,17.8,[162,80,38,19,10,6,3,1.5,0.5,0,1,2,4,8,16,35,80,180]],
[4.6,18.4,[200,100,42,21,11,6,3,1.5,0.5,0,1,2,4,8,16,35,85,200]],
[4.5,18.4,[200,100,42,21,11,6,3,1.5,0.5,0,1,2,4,8,16,35,85,200]],
[4.7,18.3,[200,100,42,21,11,6,3,1.5,0.5,0,1,2,4,8,16,35,85,200]],
[5.1,18.5,[200,90,40,20,10,5,3,1.5,0.5,0,1,2,4,8,16,35,85,200]],
[4.6,18.6,[200,100,42,21,11,6,3,1.5,0.5,0,1,2,4,8,16,35,85,200]],
[4.9,17.6,[200,95,40,20,10,5,3,1.5,0.5,0,1,2,4,8,17,38,95,200]],
[4.6,18.2,[200,100,42,21,11,6,3,1.5,0.5,0,1,2,4,8,16,35,85,200]],
[4.9,17.3,[200,95,40,20,10,5,3,1.5,0.5,0,1,2,4,8,18,40,100,200]],
[4.6,17.7,[200,100,42,21,11,6,3,1.5,0.5,0,1,2,4,8,16,35,80,185]]];
const O3VIS_E=[
[6.1,16.6,[33,14,6,2,0.5,1,3,8,18]],
[5.8,16.4,[37,15,6,2,0.5,1,3,8,18]],
[5.9,16.2,[36,14,6,2,0.5,1,3,8,18]],
[6.0,16.2,[38,15,6,2,0.5,1,3,8,18]],
[5.9,16.3,[36,15,6,2,0.5,1,3,8,18]],
[6.0,16.3,[38,15,6,2,0.5,1,3,8,18]],
[6.0,16.2,[38,15,6,2,0.5,1,3,8,18]],
[6.1,16.4,[40,16,6,2,0.5,1,3,8,18]],
[6.0,16.3,[42,16,6,2,0.5,1,3,8,18]],
[6.0,16.2,[45,16,6,2,0.5,1,3,8,18]],
[6.0,16.0,[45,16,6,2,0.5,1,3,8,18]],
[6.0,16.2,[48,17,6,2,0.5,1,3,8,20]],
[6.0,16.3,[48,17,6,2,0.5,1,3,8,20]],
[6.0,16.2,[48,17,6,2,0.5,1,3,9,22]],
[6.0,16.0,[55,18,6,2,0.5,1,3,9,22]],
[6.0,16.2,[55,18,6,2,0.5,1,3,9,22]],
[6.0,16.2,[55,18,6,2,0.5,1,3,9,22]]];
const O3UV_Z=[
[6.0,17.5,[29,19,12,7,4,2,0.5,0,0.5,2,5,10,17,31]],
[5.8,17.5,[31,20,12,7,4,2,0.5,0,0.5,2,5,10,18,36.7]],
[6.0,17.6,[27.8,18,11,6.5,3.5,1.5,0.5,0,0.5,2,5,10,18,34.4]],
[6.0,17.6,[33,21,13,7,4,2,0.5,0,0.5,2,5,10,19,36.7]],
[6.0,16.8,[27.8,18,11,6,3,1.5,0.5,0,0.5,2,5,10,17,25.6]],
[6.0,18.2,[32,21,13,7,4,2,0.5,0,0.5,2,5,10,19,37.8]],
[6.0,17.0,[25.6,17,10,6,3,1.5,0.5,0,0.5,2,4,8,15,24.4]],
[6.2,16.9,[27.8,18,11,6,3,1.5,0.5,0,0.5,2,4,9,16,28.9]],
[5.9,17.1,[27.8,18,11,6,3,1.5,0.5,0,0.5,2,5,10,18,31]],
[6.0,16.9,[26.7,17,10,6,3,1.5,0.5,0,0.5,2,5,10,17,27.8]],
[6.0,16.8,[27.8,18,11,6,3,1.5,0.5,0,0.5,2,5,10,18,31.5]],
[6.0,16.5,[30,19,12,7,3.5,1.5,0.5,0,0.5,2,5,11,20,34.4]],
[6.0,17.2,[32.2,20,12,7,3.5,1.5,0.5,0,0.5,2,5,11,21,38.9]],
[6.0,16.8,[33.3,21,13,7,3.5,1.5,0.5,0,0.5,2,6,12,22,40]],
[6.0,17.0,[31,20,12,7,3.5,1.5,0.5,0,0.5,2,5,11,21,37.8]],
[6.0,16.8,[32.2,20,12,7,3.5,1.5,0.5,0,0.5,2,6,12,23,42]],
[6.0,16.1,[30,19,11,6,3,1.5,0.5,0,0.5,2,5,10,17,26.7]]];
const O3UV_E=[
[6.0,16.0,[28,17,10,5,2,0.5,0.5,2,6,13]],
[5.8,16.2,[30,18,10,5,2,0.5,0.5,2,6,14.4]],
[6.9,16.0,[13,8,4,2,0.5,0.5,1.5,4,8,15.5]],
[6.0,16.0,[33,19,11,5,2,0.5,0.5,2,6,14.4]],
[6.9,16.2,[13.3,8,4,2,0.5,0.5,1.5,4,9,17.8]],
[6.2,16.1,[31,18,10,5,2,0.5,0.5,2,6,15.5]],
[7.0,16.0,[12.2,7,4,2,0.5,0.5,1.5,4,7,12.2]],
[7.0,16.2,[12.2,7,4,2,0.5,0.5,1.5,4,8,14.4]],
[7.0,16.2,[14.4,8,4,2,0.5,0.5,1.5,4,8,15.5]],
[7.0,16.1,[13.3,8,4,2,0.5,0.5,1.5,4,8,16.7]],
[7.0,16.0,[14.4,8,4,2,0.5,0.5,1.5,4,9,18.9]],
[6.9,15.9,[17.8,10,5,2,0.5,0.5,1.5,4,9,18.9]],
[7.0,16.1,[15.5,9,4,2,0.5,0.5,1.5,4,9,18.9]],
[6.8,15.7,[15.5,9,4,2,0.5,0.5,1.5,4,9,18.9]],
[6.6,15.9,[15.5,9,4,2,0.5,0.5,1.5,4,9,18.9]],
[6.8,16.0,[17.8,10,5,2,0.5,0.5,1.5,4,9,20]],
[6.8,15.7,[14.4,8,4,2,0.5,0.5,1.5,4,9,20]]];

// ---------- layout ----------
const L=100, W=67.5, TOP=42, RH=82.2;
const GREEN="#00ff00", BLUE="#0000ff", RED="#ff0000";
const ROWS=[
 {lab:["Hourly","Sunshine","duration"],lx:55,sp:19,dom:[0,100],ticks:[0,50,100]},
 {lab:["Norm.","intensity","at zenith"],lx:63,sp:18.5,dom:[0,98],ticks:[0,50]},
 {lab:["NO2vis","(x1e16)"],lx:62,sp:19,dom:[-5.3,39.8],ticks:[0,10,20,30],z:NO2VIS_Z,o:NO2VIS_O,e:NO2VIS_E},
 {lab:["NO2visSmall","(x1e16)"],lx:62,sp:19,dom:[-4.9,39.4],ticks:[0,10,20,30],z:NO2VS_Z,o:NO2VS_O,e:NO2VS_E},
 {lab:["NO2uv","(x1e16)"],lx:62,sp:19,dom:[-4.3,35.2],ticks:[0,10,20,30],z:NO2UV_Z,o:NO2UV_O,e:NO2UV_E},
 {lab:["O4vis","(x1e42)"],lx:55,sp:19,dom:[-10.6,130],ticks:[0,50,100],z:O4VIS_Z,o:O4VIS_O,e:O4VIS_E},
 {lab:["O4uv","(x1e42)"],lx:62,sp:19,dom:[-4.7,58.5],ticks:[0,20,40],z:O4UV_Z,o:O4UV_O,e:O4UV_E},
 {lab:["HCHO","(x1e15)"],lx:55,sp:19,dom:[-20,127.5],ticks:[0,50,100],z:HCHO_Z,o:HCHO_O,e:HCHO_E},
 {lab:["O3vis","(x1e18)"],lx:54,sp:19,dom:[-21,199],ticks:[0,50,100,150],z:O3VIS_Z,e:O3VIS_E},
 {lab:["O3uv","(x1e18)"],lx:62,sp:19,dom:[-4.9,50],ticks:[0,20,40],z:O3UV_Z,e:O3UV_E}];

const svg=d3.select("#c");
svg.append("defs").append("clipPath").attr("id","clip").append("rect").attr("x",0).attr("y",0).attr("width",W).attr("height",RH);
const x=d3.scaleLinear().domain([3.9,19.05]).range([0,W]);
function pts(s){const [t0,t1,v]=s;const n=v.length;return v.map((d,i)=>[t0+(t1-t0)*i/(n-1),d]);}
function saw(s){const [t0,t1,v]=s;const n=Math.floor(v.length/2);const dt=(t1-t0)/(n-0.15);const o=[];
 for(let i=0;i<n;i++){o.push([t0+i*dt,v[2*i]]);o.push([t0+i*dt+0.85*dt,v[2*i+1]]);}return o;}
const tY=d3.scaleLinear().domain([0,34]).range([RH,0]);
const plus=s=>`M${-s},0H${s}M0,${-s}V${s}`;
const FONT="Liberation Sans, Arial, sans-serif";

ROWS.forEach((R,r)=>{
 const y=d3.scaleLinear().domain(R.dom).range([RH,0]);
 const rowTop=TOP+r*RH;
 const lineL=d3.line().x(p=>x(p[0])).y(p=>y(p[1]));
 const lineG=d3.line().curve(d3.curveMonotoneX).x(p=>x(p[0])).y(p=>y(p[1]));
 DAYS.forEach((day,d)=>{
  const g=svg.append("g").attr("transform",`translate(${L+d*W},${rowTop})`);
  if(r>0){
   const gr=g.append("g").attr("stroke","#222").attr("stroke-width",1).attr("stroke-dasharray","1,3");
   X_TICKS.forEach(h=>gr.append("line").attr("x1",x(h)).attr("x2",x(h)).attr("y1",0).attr("y2",RH));
   R.ticks.forEach(v=>gr.append("line").attr("x1",0).attr("x2",W).attr("y1",y(v)).attr("y2",y(v)));
  }
  const c=g.append("g").attr("clip-path","url(#clip)");
  if(r===0){
   c.append("path").attr("d",d3.area().x(p=>x(p[0])).y0(y(100)).y1(y(0))([[3.9,0],[19.05,0]])).attr("fill",BLUE);
   const sun=SUN[d].map((v,i)=>[HOURS[i],v]);
   c.append("path").attr("d",d3.area().x(p=>x(p[0])).y0(y(0)).y1(p=>y(p[1]))(sun)).attr("fill","#ffff00");
   const tp=TEMP[d].map((v,i)=>[HOURS[i],v]);
   c.append("path").attr("d",d3.line().curve(d3.curveMonotoneX).x(p=>x(p[0])).y(p=>tY(p[1]))(tp))
    .attr("fill","none").attr("stroke",RED).attr("stroke-width",4.5);
  } else if(r===1){
   const ip=pts(INTENS[d]);
   c.append("path").attr("d",d3.area().x(p=>x(p[0])).y0(y(0)).y1(p=>y(p[1]))(ip)).attr("fill",BLUE);
   c.append("path").attr("d",lineL(ip)).attr("fill","none").attr("stroke","#000").attr("stroke-width",1);
   c.append("path").attr("d",lineL(pts(CI[d]))).attr("fill","none").attr("stroke",RED).attr("stroke-width",1);
  } else {
   const zp=pts(R.z[d]);
   c.append("path").attr("d",lineG(zp)).attr("fill","none").attr("stroke",GREEN).attr("stroke-width",4).attr("stroke-linejoin","round");
   c.append("g").selectAll("path").data(zp).join("path").attr("d",plus(3.2))
    .attr("transform",p=>`translate(${x(p[0])},${y(p[1])})`).attr("stroke",GREEN).attr("stroke-width",1.6);
   if(R.o){
    c.append("path").attr("d",lineL(saw(R.o[d]))).attr("fill","none").attr("stroke",BLUE).attr("stroke-width",2).attr("stroke-linejoin","round");
   }
   const ep=pts(R.e[d]);
   c.append("path").attr("d",lineL(ep)).attr("fill","none").attr("stroke",RED).attr("stroke-width",2);
   c.append("g").selectAll("path").data(ep).join("path").attr("d",plus(2.2))
    .attr("transform",p=>`translate(${x(p[0])},${y(p[1])})`).attr("stroke",RED).attr("stroke-width",1.2);
  }
 });
 const ax=svg.append("g").attr("transform",`translate(${L},${rowTop})`)
   .call(d3.axisLeft(y).tickValues(R.ticks).tickSize(0).tickPadding(4).tickFormat(d3.format("d")));
 ax.select(".domain").remove();
 ax.selectAll("text").attr("font-size",16).attr("font-family",FONT);
 const n=R.lab.length;
 R.lab.forEach((t,k)=>{
  svg.append("text").attr("transform",`translate(${R.lx-(n-1-k)*R.sp},${rowTop+RH/2}) rotate(-90)`)
   .attr("text-anchor","middle").attr("dominant-baseline","central").attr("font-size",15.5).text(t);
 });
 if(r===0){
  const ar=svg.append("g").attr("transform",`translate(${L+DAYS.length*W},${rowTop})`)
   .call(d3.axisRight(tY).tickValues([0,10,20,30]).tickSize(0).tickPadding(5));
  ar.select(".domain").remove();
  ar.selectAll("text").attr("font-size",16).attr("font-family",FONT);
 }
 if(r===1){
  const ar=svg.append("g").attr("transform",`translate(${L+DAYS.length*W},${rowTop})`)
   .call(d3.axisRight(y).tickValues([0,50]).tickSize(0).tickPadding(5));
  ar.select(".domain").remove();
  ar.selectAll("text").attr("font-size",16).attr("font-family",FONT);
 }
});

const fr=svg.append("g").attr("fill","none");
const BOT=TOP+ROWS.length*RH, RIGHT=L+DAYS.length*W;
for(let r=0;r<=ROWS.length;r++) fr.append("line").attr("x1",L).attr("x2",RIGHT).attr("y1",TOP+r*RH).attr("y2",TOP+r*RH).attr("stroke","#111").attr("stroke-width",1.3);
for(let d=1;d<DAYS.length;d++) fr.append("line").attr("x1",L+d*W).attr("x2",L+d*W).attr("y1",TOP).attr("y2",BOT).attr("stroke","#666").attr("stroke-width",2.2);
fr.append("line").attr("x1",L).attr("x2",L).attr("y1",TOP).attr("y2",BOT).attr("stroke","#111").attr("stroke-width",1.3);
fr.append("line").attr("x1",RIGHT).attr("x2",RIGHT).attr("y1",TOP).attr("y2",BOT).attr("stroke","#111").attr("stroke-width",1.3);

DAYS.forEach((day,d)=>{
 svg.append("text").attr("x",L+d*W+W/2).attr("y",29).attr("text-anchor","middle").attr("font-size",17.5).text(day);
 const xa=svg.append("g").attr("transform",`translate(${L+d*W},${BOT})`)
  .call(d3.axisBottom(x).tickValues(X_TICKS).tickSize(0).tickPadding(9));
 xa.select(".domain").remove();
 xa.selectAll("text").attr("font-size",15).attr("font-family",FONT);
});
svg.append("text").attr("x",656).attr("y",907).attr("text-anchor","middle").attr("font-size",20.5).text("Universal time (h)");

svg.append("text").attr("transform","translate(1285,90) rotate(-90)").attr("text-anchor","middle").attr("dominant-baseline","central").attr("font-size",16).text("T (°C)");
svg.append("text").attr("transform","translate(1284,166) rotate(-90)").attr("text-anchor","middle").attr("dominant-baseline","central").attr("font-size",16).text("CI (440/500)");
svg.append("text").attr("transform","translate(1302,166) rotate(-90)").attr("text-anchor","middle").attr("dominant-baseline","central").attr("font-size",16).text("a.u.");

const LEG=[["Zenith",GREEN],["Off-axis",BLUE],["30° elev.",RED]];
LEG.forEach(([t,col],i)=>{
 const yy=233+i*17;
 svg.append("line").attr("x1",1261).attr("x2",1273).attr("y1",yy).attr("y2",yy).attr("stroke",col).attr("stroke-width",3);
 svg.append("text").attr("x",1278).attr("y",yy).attr("dominant-baseline","central").attr("font-size",14).text(t);
});
</script></body></html>
